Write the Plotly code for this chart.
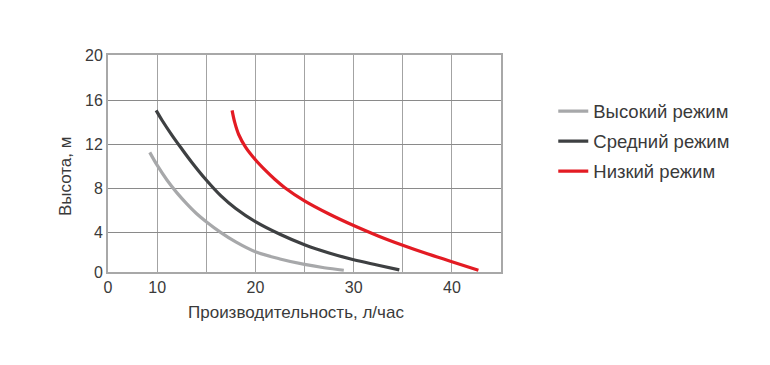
import plotly.graph_objects as go

# Data
high_x = [9.25, 10.0, 11.0, 12.0, 13.0, 14.0, 15.0, 16.5, 18.0, 20.0, 22.5, 25.0, 27.0, 29.0]
high_y = [11.27, 10.1, 8.75, 7.6, 6.6, 5.7, 4.95, 3.95, 3.1, 2.2, 1.55, 1.05, 0.75, 0.52]

mid_x = [9.9, 10.5, 11.5, 12.5, 13.5, 15.0, 16.5, 18.0, 20.0, 22.5, 25.0, 27.5, 30.0, 32.5, 34.65]
mid_y = [15.1, 14.2, 12.85, 11.6, 10.4, 8.75, 7.3, 6.15, 4.95, 3.8, 2.85, 2.1, 1.48, 0.98, 0.55]

low_x = [17.63, 17.9, 18.3, 19.0, 20.0, 21.0, 22.0, 23.0, 25.0, 27.5, 30.0, 32.5, 35.0, 37.5, 40.0, 42.7]
low_y = [15.1, 14.0, 12.9, 11.75, 10.6, 9.65, 8.8, 8.05, 6.85, 5.65, 4.6, 3.65, 2.8, 2.02, 1.3, 0.52]

series_names = ["Высокий режим", "Средний режим", "Низкий режим"]
series_colors = ["#a7a8aa", "#3e4042", "#e31b23"]

x_tickvals = [5, 10, 15, 20, 25, 30, 35, 40, 45]
x_ticktext = ["0", "10", "", "20", "", "30", "", "40", ""]
y_tickvals = [0.36, 4, 8, 12, 16, 20.15]
y_ticktext = ["0", "4", "8", "12", "16", "20"]

x_title = "Производительность, л/час"
y_title = "Высота, м"

FONT = "Liberation Sans, Arial, sans-serif"
TXT = "#3a3a3a"

fig = go.Figure()
for i, (xs, ys) in enumerate([(high_x, high_y), (mid_x, mid_y), (low_x, low_y)]):
    fig.add_trace(go.Scatter(
        x=xs, y=ys, mode="lines", name=series_names[i],
        line=dict(color=series_colors[i], width=3.2, shape="spline", smoothing=1.0),
        legendgroup=f"g{i}",
    ))

fig.update_layout(
    width=770, height=365,
    margin=dict(l=99.5, r=277.3, t=46.7, b=100.7, autoexpand=False),
    paper_bgcolor="white", plot_bgcolor="white",
    font=dict(family=FONT, color=TXT, size=16),
    showlegend=True,
    legend=dict(
        x=1.133, xanchor="left", y=0.827, yanchor="top",
        font=dict(family=FONT, size=18.5, color=TXT),
        tracegroupgap=3, bgcolor="rgba(0,0,0,0)",
    ),
    annotations=[
        dict(text=x_title, xref="paper", yref="paper", x=0.479, y=-0.187,
             xanchor="center", yanchor="middle", showarrow=False,
             font=dict(family=FONT, size=17, color=TXT)),
        dict(text=y_title, xref="paper", yref="paper", x=-0.108, y=0.44,
             xanchor="center", yanchor="middle", showarrow=False, textangle=-90,
             font=dict(family=FONT, size=17, color=TXT)),
    ],
)

fig.update_xaxes(
    range=[5, 45], tickmode="array", tickvals=x_tickvals, ticktext=x_ticktext,
    showgrid=True, gridcolor="#a3a3a3", gridwidth=1.3,
    showline=True, linecolor="#a8a8a8", linewidth=2, mirror=True,
    ticks="", zeroline=False, tickfont=dict(size=16, color=TXT),
)
fig.update_yaxes(
    range=[0.36, 20.15], tickmode="array", tickvals=y_tickvals, ticktext=y_ticktext,
    showgrid=True, gridcolor="#8a8a8a", gridwidth=1.3,
    showline=True, linecolor="#a8a8a8", linewidth=2, mirror=True,
    ticks="", zeroline=False, tickfont=dict(size=16, color=TXT),
)

fig.write_html("out.html")
